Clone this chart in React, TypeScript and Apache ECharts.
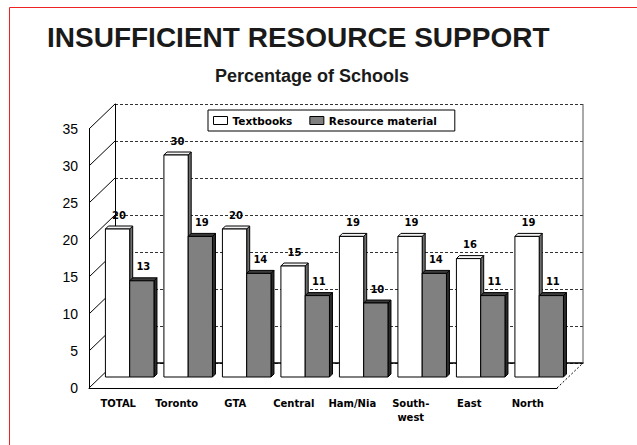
import React, { useEffect, useRef } from "react";
import * as echarts from "echarts";

const CATEGORIES = ["TOTAL", "Toronto", "GTA", "Central", "Ham/Nia", "South-\nwest", "East", "North"];
const TEXTBOOKS = [20, 30, 20, 15, 19, 19, 16, 19];
const RESOURCE = [13, 19, 14, 11, 10, 14, 11, 11];
const Y_TICKS = [0, 5, 10, 15, 20, 25, 30, 35];
const SERIES_NAMES = ["Textbooks", "Resource material"];

const Y_MIN = 0;
const Y_MAX = 35;
const Y_STEP = 5;

// layout of the pseudo-3D box
const FRONT_LEFT = 89;
const FRONT_BOTTOM = 388;
const PLOT_W = 468;
const PLOT_H = 259;
const DX = 26;
const DY = -25;
const BAR_PLANE = 0.44;
const BAR_FRAC = 0.415;
const BAR_D = 3;

const COLORS = [
  { front: "#ffffff", top: "#f2f2f2", side: "#6e6e6e" },
  { front: "#808080", top: "#3c3c3c", side: "#2a2a2a" },
];

function makeBarRender(idx: number) {
  const c = COLORS[idx];
  return (params: any, api: any) => {
    const i = api.value(0);
    const v = api.value(1);
    const top = api.coord([i, v]);
    const bot = api.coord([i, 0]);
    const band = api.size([1, 0])[0];
    const w = band * BAR_FRAC;
    const x0 = idx === 0 ? top[0] - w : top[0];
    const x1 = x0 + w;
    const yT = top[1];
    const yB = bot[1];
    const d = BAR_D;
    return {
      type: "group",
      children: [
        {
          type: "polygon",
          shape: { points: [[x1, yT], [x1 + d, yT - d], [x1 + d, yB - d], [x1, yB]] },
          style: { fill: c.side, stroke: "#000", lineWidth: 1 },
        },
        {
          type: "polygon",
          shape: { points: [[x0, yT], [x0 + d, yT - d], [x1 + d, yT - d], [x1, yT]] },
          style: { fill: c.top, stroke: "#000", lineWidth: 1 },
        },
        {
          type: "rect",
          shape: { x: x0, y: yT, width: w, height: yB - yT },
          style: { fill: c.front, stroke: "#000", lineWidth: 1 },
        },
        {
          type: "text",
          x: (x0 + x1) / 2 + d / 2,
          y: yT - 14,
          style: {
            text: String(v),
            fill: "#000",
            fontFamily: "DejaVu Sans",
            fontWeight: "bold",
            fontSize: 10,
            align: "center",
            verticalAlign: "middle",
          },
        },
      ],
    };
  };
}

function wallRender(params: any, api: any) {
  const v = api.value(1);
  const p = api.coord([0, v]);
  const band = api.size([1, 0])[0];
  const left = p[0] - band / 2;
  const children: any[] = [
    {
      type: "line",
      shape: { x1: left, y1: p[1], x2: left + DX, y2: p[1] + DY },
      style: { stroke: "#000", lineWidth: 1 },
    },
  ];
  if (v === Y_MIN) {
    const right = left + band * CATEGORIES.length;
    const pTop = api.coord([0, Y_MAX]);
    children.push({
      type: "line",
      shape: { x1: right, y1: p[1], x2: right + DX, y2: p[1] + DY },
      style: { stroke: "#000", lineWidth: 1, lineDash: [2, 2] },
    });
    children.push({
      type: "line",
      shape: { x1: right + DX, y1: p[1] + DY, x2: right + DX, y2: pTop[1] + DY },
      style: { stroke: "#555", lineWidth: 1 },
    });
  }
  return { type: "group", children };
}

export default function App() {
  const ref = useRef<HTMLDivElement>(null);
  useEffect(() => {
    if (!ref.current) return;
    const chart = echarts.init(ref.current, undefined, { renderer: "svg" });
    const valueAxisBase = { type: "value", min: Y_MIN, max: Y_MAX, interval: Y_STEP };
    const option: any = {
      animation: false,
      backgroundColor: "#fff",
      title: [
        {
          text: "INSUFFICIENT RESOURCE SUPPORT",
          left: 47,
          top: 23,
          padding: 0,
          textStyle: { fontFamily: "Liberation Sans", fontWeight: "bold", fontSize: 28, color: "#1a1a1a" },
        },
        {
          text: "Percentage of Schools",
          left: 215,
          top: 67,
          padding: 0,
          textStyle: { fontFamily: "Liberation Sans", fontWeight: "bold", fontSize: 18, color: "#1a1a1a" },
        },
      ],
      legend: {
        left: 208,
        top: 110,
        padding: [5, 18, 5, 5],
        itemGap: 17,
        itemWidth: 14,
        itemHeight: 8,
        borderColor: "#000",
        borderWidth: 1,
        backgroundColor: "#fff",
        textStyle: { fontFamily: "DejaVu Sans", fontWeight: "bold", fontSize: 10.5, color: "#000" },
        data: [
          { name: SERIES_NAMES[0], icon: "rect", itemStyle: { color: COLORS[0].front, borderColor: "#000", borderWidth: 1 } },
          { name: SERIES_NAMES[1], icon: "rect", itemStyle: { color: COLORS[1].front, borderColor: "#000", borderWidth: 1 } },
        ],
      },
      grid: [
        { left: FRONT_LEFT, top: FRONT_BOTTOM - PLOT_H, width: PLOT_W, height: PLOT_H },
        { left: FRONT_LEFT + DX, top: FRONT_BOTTOM - PLOT_H + DY, width: PLOT_W, height: PLOT_H },
        {
          left: FRONT_LEFT + DX * BAR_PLANE,
          top: FRONT_BOTTOM - PLOT_H + DY * BAR_PLANE,
          width: PLOT_W,
          height: PLOT_H,
        },
      ],
      xAxis: [
        {
          gridIndex: 0,
          type: "category",
          data: CATEGORIES,
          axisLine: { show: true, lineStyle: { color: "#000", width: 1 } },
          axisTick: { show: false },
          splitLine: { show: false },
          axisLabel: {
            interval: 0,
            margin: 8,
            fontFamily: "DejaVu Sans",
            fontWeight: "bold",
            fontSize: 10,
            lineHeight: 14,
            color: "#000",
          },
        },
        {
          gridIndex: 1,
          type: "category",
          data: CATEGORIES,
          axisLine: { show: true, lineStyle: { color: "#000", width: 1.5 } },
          axisTick: { show: false },
          axisLabel: { show: false },
          splitLine: { show: false },
        },
        { gridIndex: 2, type: "category", data: CATEGORIES, show: false },
      ],
      yAxis: [
        {
          ...valueAxisBase,
          gridIndex: 0,
          axisLine: { show: true, lineStyle: { color: "#000", width: 1 } },
          axisTick: { show: false },
          splitLine: { show: false },
          axisLabel: {
            fontFamily: "Liberation Sans",
            fontSize: 14,
            color: "#000",
            margin: 11,
            padding: [6, 0, 0, 0],
          },
        },
        {
          ...valueAxisBase,
          gridIndex: 1,
          axisLine: { show: true, lineStyle: { color: "#000", width: 1 } },
          axisTick: { show: false },
          axisLabel: { show: false },
          splitLine: { show: true, lineStyle: { color: "#333", width: 1, type: [3, 2] } },
        },
        { ...valueAxisBase, gridIndex: 2, show: false },
      ],
      series: [
        {
          type: "custom",
          name: "walls",
          silent: true,
          xAxisIndex: 0,
          yAxisIndex: 0,
          renderItem: wallRender,
          data: Y_TICKS.map((v) => [0, v]),
          z: 1,
        },
        {
          type: "custom",
          name: SERIES_NAMES[0],
          xAxisIndex: 2,
          yAxisIndex: 2,
          itemStyle: { color: COLORS[0].front, borderColor: "#000" },
          renderItem: makeBarRender(0),
          data: TEXTBOOKS.map((v, i) => [i, v]),
          z: 3,
        },
        {
          type: "custom",
          name: SERIES_NAMES[1],
          xAxisIndex: 2,
          yAxisIndex: 2,
          itemStyle: { color: COLORS[1].front, borderColor: "#000" },
          renderItem: makeBarRender(1),
          data: RESOURCE.map((v, i) => [i, v]),
          z: 3,
        },
      ],
      graphic: [
        {
          type: "rect",
          shape: { x: 9.5, y: 7.5, width: 700, height: 500 },
          style: { fill: "none", stroke: "#ee2222", lineWidth: 1 },
          silent: true,
          z: 10,
        },
      ],
    };
    chart.setOption(option);
    return () => chart.dispose();
  }, []);
  return (
    <div
      ref={ref}
      style={{ position: "absolute", left: 0, top: 0, width: 637, height: 445, background: "#fff" }}
    />
  );
}
